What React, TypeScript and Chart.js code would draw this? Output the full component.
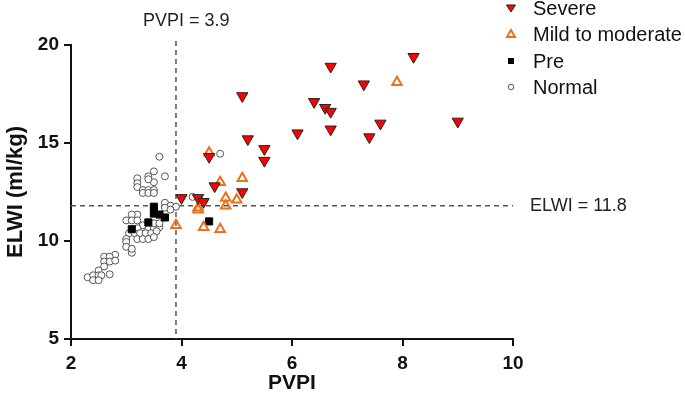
import React, { useEffect, useRef } from "react";
import { Chart, registerables } from "chart.js";

Chart.register(...registerables);

// ---- data ----
const severeX = [4.0, 4.3, 4.4, 4.5, 4.6, 5.1, 5.1, 5.2, 5.5, 5.5, 6.1, 6.4, 6.6, 6.7, 6.7, 6.7, 7.3, 7.4, 7.6, 8.2, 9.0];
const severeY = [12.2, 12.2, 12.0, 14.3, 12.8, 12.5, 17.4, 15.2, 14.7, 14.1, 15.5, 17.1, 16.8, 16.6, 18.9, 15.7, 18.0, 15.3, 16.0, 19.4, 16.1];

const mildX = [3.9, 4.3, 4.3, 4.4, 4.5, 4.7, 4.7, 4.8, 4.8, 5.0, 5.1, 7.9];
const mildY = [10.8, 11.7, 11.6, 10.7, 14.5, 13.0, 10.6, 12.2, 11.8, 12.1, 13.2, 18.1];

const preX = [3.1, 3.4, 3.5, 3.5, 3.6, 3.7, 4.5];
const preY = [10.6, 10.95, 11.75, 11.4, 11.35, 11.2, 11.0];

const normalX = [
  3.6, 3.5, 3.4, 3.7, 3.5, 3.2, 3.2, 3.2, 3.3, 3.4, 3.5, 3.4, 3.3, 3.4, 3.5,
  3.7, 3.8, 3.9, 3.7, 3.8, 4.2, 4.7,
  3.2, 3.1, 3.0, 3.1, 3.2, 3.3, 3.4, 3.5, 3.6, 3.5, 3.6, 3.2, 3.05, 3.15, 3.25, 3.35, 3.45, 3.55,
  3.0, 3.2, 3.3, 3.4, 3.5, 3.0, 3.0, 3.1, 3.1,
  2.8, 2.6, 2.7, 2.6, 2.7, 2.8, 2.6, 2.5, 2.7, 2.3, 2.4, 2.5, 2.55, 2.4, 2.5,
];
const normalY = [
  14.3, 13.55, 13.3, 13.3, 13.0, 13.2, 12.95, 12.75, 12.6, 12.6, 12.6, 13.15, 12.45, 12.45, 12.45,
  11.95, 11.8, 11.75, 11.7, 11.6, 12.25, 14.45,
  11.35, 11.35, 11.05, 11.05, 11.05, 10.8, 10.6, 10.65, 10.7, 10.9, 10.9, 10.65, 10.4, 10.4, 10.4, 10.4, 10.4, 10.5,
  10.1, 10.1, 10.1, 10.1, 10.2, 9.95, 9.7, 9.4, 9.6,
  9.3, 9.2, 9.2, 8.95, 8.95, 9.0, 8.7, 8.5, 8.3, 8.15, 8.25, 8.25, 8.25, 8.0, 8.0,
];

const xTicks = [2, 4, 6, 8, 10];
const yTicks = [5, 10, 15, 20];
const pvpiCut = 3.9;
const elwiCut = 11.8;
const legendLabels = ["Severe", "Mild to moderate", "Pre", "Normal"];

const FONT = "'Liberation Sans', Arial, Helvetica, sans-serif";
const RED = "#FF0000";
const ORANGE = "#E8731A";

const pts = (xs: number[], ys: number[]) => xs.map((x, i) => ({ x, y: ys[i] }));

const overlayPlugin = {
  id: "overlay",
  beforeDatasetsDraw(chart: any) {
    const { ctx, chartArea, scales } = chart;
    const xs = scales.x;
    const ys = scales.y;
    ctx.save();
    ctx.strokeStyle = "#555";
    ctx.lineWidth = 1.5;
    ctx.setLineDash([5, 4]);
    const vx = xs.getPixelForValue(pvpiCut);
    ctx.beginPath();
    ctx.moveTo(vx, chartArea.top - 4);
    ctx.lineTo(vx, chartArea.bottom);
    ctx.stroke();
    const hy = ys.getPixelForValue(elwiCut);
    ctx.beginPath();
    ctx.moveTo(chartArea.left, hy);
    ctx.lineTo(chartArea.right, hy);
    ctx.stroke();
    ctx.restore();
  },
  afterDraw(chart: any) {
    const { ctx, chartArea, scales } = chart;
    const xs = scales.x;
    const ys = scales.y;
    ctx.save();
    ctx.fillStyle = "#222";
    ctx.font = `18px ${FONT}`;
    ctx.textBaseline = "middle";
    ctx.textAlign = "left";
    ctx.fillText(`PVPI = ${pvpiCut}`, xs.getPixelForValue(pvpiCut) - 33, 21);
    ctx.fillText(`ELWI = ${elwiCut}`, chartArea.right + 17, ys.getPixelForValue(elwiCut));

    // legend
    const lx = 511;
    const rows = [8, 34, 61, 87];
    ctx.font = `20px ${FONT}`;
    ctx.fillStyle = "#111";
    legendLabels.forEach((t, i) => ctx.fillText(t, 533, rows[i] + 1));
    // severe marker
    let y = rows[0];
    ctx.beginPath();
    ctx.moveTo(lx - 4.5, y - 3);
    ctx.lineTo(lx + 4.5, y - 3);
    ctx.lineTo(lx, y + 4);
    ctx.closePath();
    ctx.fillStyle = RED;
    ctx.fill();
    ctx.strokeStyle = "#222";
    ctx.lineWidth = 1;
    ctx.stroke();
    // mild marker
    y = rows[1];
    ctx.beginPath();
    ctx.moveTo(lx, y - 4);
    ctx.lineTo(lx + 4, y + 3);
    ctx.lineTo(lx - 4, y + 3);
    ctx.closePath();
    ctx.strokeStyle = ORANGE;
    ctx.lineWidth = 2;
    ctx.stroke();
    // pre marker
    y = rows[2];
    ctx.fillStyle = "#000";
    ctx.fillRect(lx - 3, y - 3, 6, 6);
    // normal marker
    y = rows[3];
    ctx.beginPath();
    ctx.arc(lx, y, 2.8, 0, Math.PI * 2);
    ctx.strokeStyle = "#555";
    ctx.lineWidth = 1;
    ctx.stroke();
    ctx.restore();
  },
};

export default function App() {
  const ref = useRef<HTMLCanvasElement | null>(null);
  useEffect(() => {
    if (!ref.current) return;
    const chart = new Chart(ref.current, {
      type: "scatter",
      data: {
        datasets: [
          {
            label: legendLabels[0],
            data: pts(severeX, severeY),
            pointStyle: "triangle",
            rotation: 180,
            pointRadius: 6.5,
            backgroundColor: RED,
            borderColor: "#222",
            borderWidth: 1,
          },
          {
            label: legendLabels[1],
            data: pts(mildX, mildY),
            pointStyle: "triangle",
            pointRadius: 5.5,
            backgroundColor: "rgba(255,255,255,0)",
            borderColor: ORANGE,
            borderWidth: 2,
          },
          {
            label: legendLabels[2],
            data: pts(preX, preY),
            pointStyle: "rect",
            pointRadius: 5,
            backgroundColor: "#000",
            borderColor: "#000",
            borderWidth: 1,
          },
          {
            label: legendLabels[3],
            data: pts(normalX, normalY),
            pointStyle: "circle",
            pointRadius: 3.5,
            backgroundColor: "rgba(255,255,255,0.9)",
            borderColor: "#555",
            borderWidth: 1,
          },
        ],
      },
      options: {
        animation: false,
        responsive: true,
        maintainAspectRatio: false,
        layout: { padding: { left: 0, top: 45, right: 172, bottom: 0 } },
        plugins: { legend: { display: false }, tooltip: { enabled: false } },
        scales: {
          x: {
            type: "linear",
            min: 2,
            max: 10,
            afterBuildTicks: (s: any) => {
              s.ticks = xTicks.map((v) => ({ value: v }));
            },
            afterFit: (s: any) => {
              s.height = 61;
            },
            ticks: {
              font: { family: FONT, size: 19, weight: "bold" },
              color: "#111",
              padding: 6,
            },
            grid: { display: true, drawOnChartArea: false, drawTicks: true, tickLength: 7, color: "#111", lineWidth: 2 },
            border: { display: true, color: "#111", width: 2 },
            title: {
              display: true,
              text: "PVPI",
              font: { family: FONT, size: 21, weight: "bold" },
              color: "#111",
              padding: { top: 0, bottom: 4 },
            },
          },
          y: {
            type: "linear",
            min: 5,
            max: 20,
            afterBuildTicks: (s: any) => {
              s.ticks = yTicks.map((v) => ({ value: v }));
            },
            afterFit: (s: any) => {
              s.width = 71;
            },
            ticks: {
              font: { family: FONT, size: 19, weight: "bold" },
              color: "#111",
              padding: 5,
            },
            grid: { display: true, drawOnChartArea: false, drawTicks: true, tickLength: 7, color: "#111", lineWidth: 2 },
            border: { display: true, color: "#111", width: 2 },
            title: {
              display: true,
              text: "ELWI (ml/kg)",
              font: { family: FONT, size: 22, weight: "bold" },
              color: "#111",
              padding: { top: 3, bottom: 0 },
            },
          },
        },
      },
      plugins: [overlayPlugin],
    } as any);
    return () => chart.destroy();
  }, []);
  return (
    <div style={{ position: "fixed", left: 0, top: 0, width: 685, height: 400, background: "#fff" }}>
      <canvas ref={ref} />
    </div>
  );
}
